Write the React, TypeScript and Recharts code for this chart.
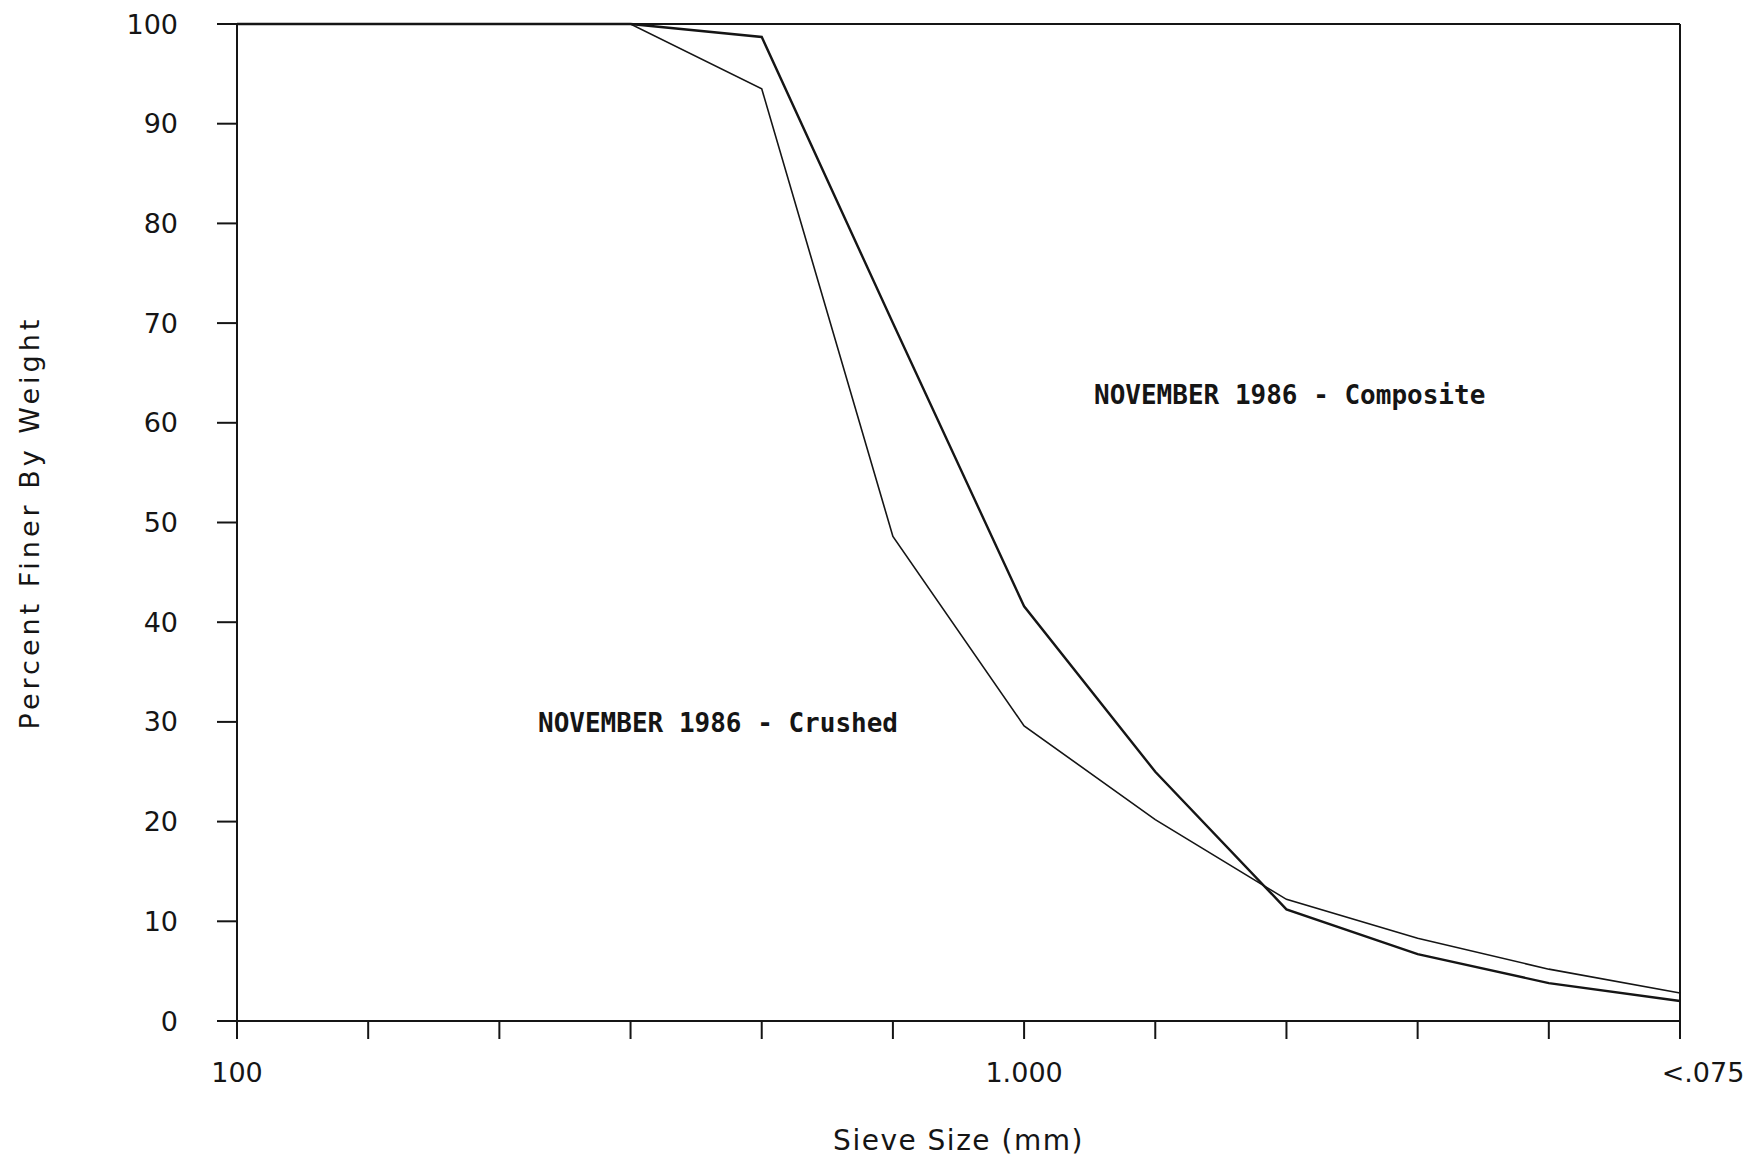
import { LineChart, Line, XAxis, YAxis, ReferenceLine } from "recharts";

// sieve openings along the bottom, coarse to fine
const sieveSizes = ["100", "50", "25", "12.5", "9.5", "4.75", "1.000", "0.600", "0.425", "0.250", "0.150", "<.075"];
const shownSieveLabels = ["100", "1.000", "<.075"];

const compositeFiner = [100, 100, 100, 100, 98.7, 70, 41.6, 25, 11.2, 6.7, 3.8, 2.0];
const crushedFiner = [100, 100, 100, 100, 93.5, 48.6, 29.6, 20.2, 12.2, 8.3, 5.2, 2.8];

const percentTicks = [0, 10, 20, 30, 40, 50, 60, 70, 80, 90, 100];

const rows = sieveSizes.map((size, i) => ({
  size,
  composite: compositeFiner[i],
  crushed: crushedFiner[i],
}));

const ink = "#151515";
const sans = "'DejaVu Sans', Verdana, sans-serif";
const mono = "'DejaVu Sans Mono', 'Liberation Mono', monospace";

function SieveTick(props: any) {
  const { x, y, payload } = props;
  const label = payload.value as string;
  if (!shownSieveLabels.includes(label)) return <g />;
  const shift = label === "<.075" ? 23 : 0;
  return (
    <text
      x={x + shift}
      y={y}
      dy="0.71em"
      textAnchor="middle"
      fontSize={27}
      fontFamily={sans}
      fill={ink}
    >
      {label}
    </text>
  );
}

const noteStyle: React.CSSProperties = {
  position: "absolute",
  fontFamily: mono,
  fontWeight: "bold",
  fontSize: 26,
  lineHeight: "30px",
  color: ink,
  whiteSpace: "nowrap",
};

export default function App() {
  return (
    <div style={{ position: "fixed", left: 0, top: 0, width: 1758, height: 1158, background: "#fff" }}>
      <LineChart
        width={1758}
        height={1158}
        data={rows}
        margin={{ top: 24, right: 78, bottom: 0, left: 0 }}
      >
        <XAxis
          dataKey="size"
          interval={0}
          height={137}
          tickSize={18}
          tickMargin={24}
          tick={<SieveTick />}
          axisLine={{ stroke: ink, strokeWidth: 2 }}
          tickLine={{ stroke: ink, strokeWidth: 2 }}
          label={{
            value: "Sieve Size (mm)",
            position: "insideBottom",
            offset: 8,
            style: { fontSize: 28, fontFamily: sans, fill: ink, letterSpacing: 1.5 },
          }}
        />
        <YAxis
          domain={[0, 100]}
          ticks={percentTicks}
          width={237}
          tickSize={20}
          tickMargin={39}
          axisLine={{ stroke: ink, strokeWidth: 2 }}
          tickLine={{ stroke: ink, strokeWidth: 2 }}
          tick={{ fontSize: 27, fontFamily: sans, fill: ink }}
          label={{
            value: "Percent Finer By Weight",
            angle: -90,
            position: "insideLeft",
            offset: 29,
            style: { textAnchor: "middle", fontSize: 27, fontFamily: sans, fill: ink, letterSpacing: 4 },
          }}
        />
        <ReferenceLine y={100} stroke={ink} strokeWidth={2} />
        <ReferenceLine x="<.075" stroke={ink} strokeWidth={2} />
        <Line
          type="linear"
          dataKey="crushed"
          stroke={ink}
          strokeWidth={1.6}
          dot={false}
          isAnimationActive={false}
        />
        <Line
          type="linear"
          dataKey="composite"
          stroke={ink}
          strokeWidth={2.4}
          dot={false}
          isAnimationActive={false}
        />
      </LineChart>
      <div style={{ ...noteStyle, left: 1094, top: 380 }}>NOVEMBER 1986 - Composite</div>
      <div style={{ ...noteStyle, left: 538, top: 708 }}>NOVEMBER 1986 - Crushed</div>
    </div>
  );
}
